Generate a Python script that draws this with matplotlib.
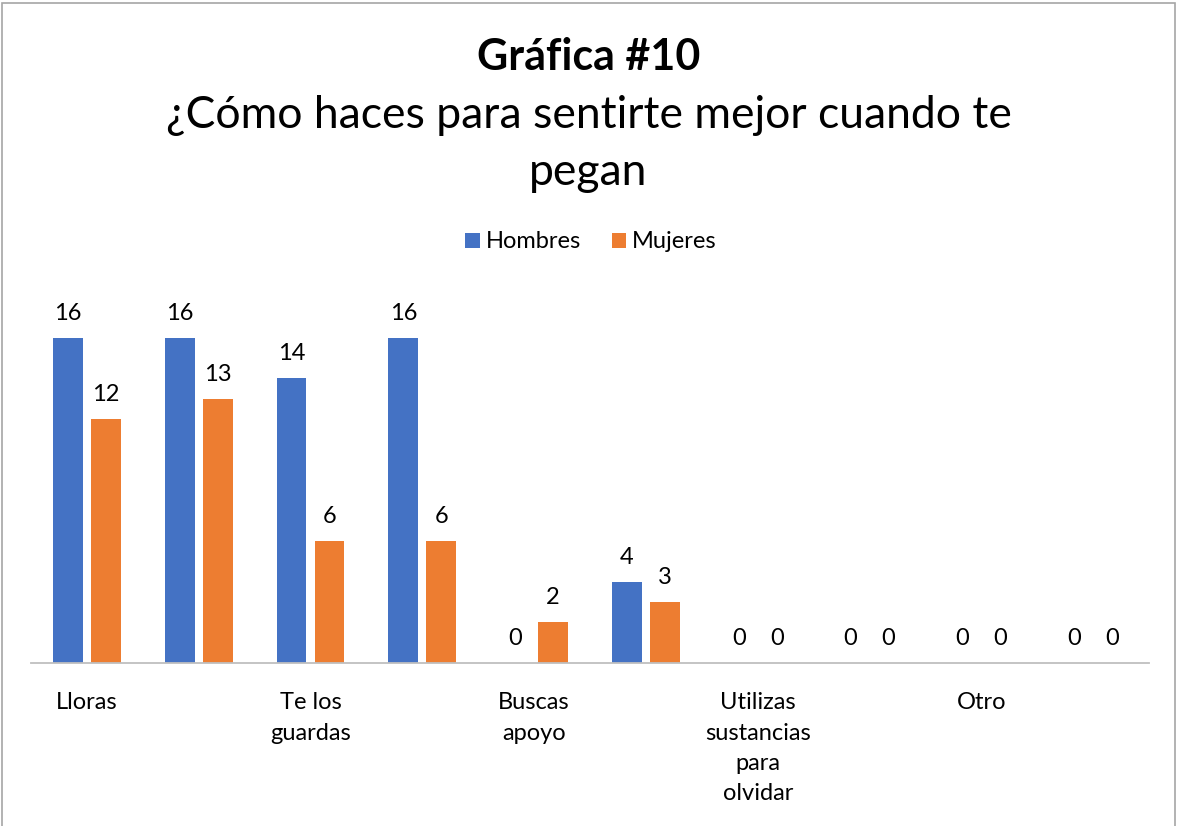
import numpy as np
import matplotlib
matplotlib.use('Agg')
import matplotlib.pyplot as plt
from matplotlib.patches import Rectangle

plt.rcParams['font.family'] = ['Lato', 'DejaVu Sans']

# 数据
categorias = ['Lloras', '', 'Te los\nguardas', '', 'Buscas\napoyo', '',
              'Utilizas\nsustancias\npara\nolvidar', '', 'Otro', '']
hombres = [16, 16, 14, 16, 0, 4, 0, 0, 0, 0]
mujeres = [12, 13, 6, 6, 2, 3, 0, 0, 0, 0]

azul = '#4472C4'
naranja = '#ED7D31'

fig = plt.figure(figsize=(11.77, 8.26), dpi=100)
ax = fig.add_axes([31 / 1177, 1 - 663 / 826, (1149 - 31) / 1177, 366 / 826])

x = np.arange(len(categorias))
w = 0.268
off = 0.17
b1 = ax.bar(x - off, hombres, w, color=azul, label='Hombres')
b2 = ax.bar(x + off, mujeres, w, color=naranja, label='Mujeres')

for bars, vals in [(b1, hombres), (b2, mujeres)]:
    for rect, v in zip(bars, vals):
        ax.annotate(str(v), (rect.get_x() + rect.get_width() / 2, v),
                    xytext=(0, 10), textcoords='offset points',
                    ha='center', va='bottom', fontsize=17)

ax.set_xlim(-0.5, len(categorias) - 0.5)
ax.set_ylim(0, 18)
ax.set_xticks(x)
ax.set_xticklabels(categorias, fontsize=17, linespacing=1.55, va='top')
ax.tick_params(axis='x', length=0, pad=21)
ax.set_yticks([])
for s in ['top', 'right', 'left']:
    ax.spines[s].set_visible(False)
ax.spines['bottom'].set_color('#BFBFBF')
ax.spines['bottom'].set_linewidth(1.3)

# 标题
fig.text(0.5, 1 - 57 / 826, 'Gráfica #10', ha='center', va='center',
         fontsize=31, fontweight='bold')
fig.text(0.5, 1 - 144 / 826,
         '¿Cómo haces para sentirte mejor cuando te\npegan',
         ha='center', va='center', fontsize=32, linespacing=1.5)

fig.legend(handles=[b1, b2], loc='center', bbox_to_anchor=(0.502, 1 - 242 / 826),
           ncol=2, frameon=False, fontsize=17, handlelength=0.6,
           handleheight=0.6, handletextpad=0.25, columnspacing=1.3)

# 边框
fig.patches.append(Rectangle((2 / 1177, -0.01), 1 - 4 / 1177, 1 - 3 / 826 + 0.01,
                             transform=fig.transFigure, fill=False,
                             edgecolor='#A6A6A6', linewidth=1.2))

fig.savefig('out.png', dpi=100)
